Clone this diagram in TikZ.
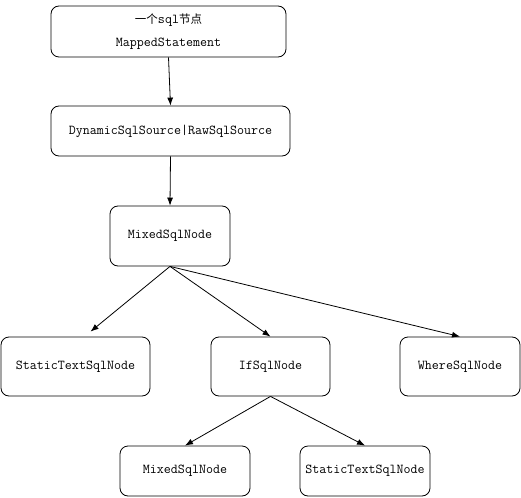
\documentclass[tikz,border=0pt]{standalone}
\usepackage{fontspec}
\newfontfamily\cjk{Noto Sans CJK SC}
\usetikzlibrary{arrows.meta}
\begin{document}
\begin{tikzpicture}[x=1pt,y=-1pt,line width=0.8pt,
 box/.style={draw,rounded corners=8pt,inner sep=0pt,font=\ttfamily\fontsize{13.6}{15}\selectfont},
 arr/.style={-{Latex[length=8pt,width=6pt]}}]
 \useasboundingbox (0,0) rectangle (521,497);
 \node[box,minimum width=235,minimum height=51,align=center] (mapped) at (168.5,31.5) {{\cjk\fontsize{11.5}{14}\selectfont 一个}sql{\cjk\fontsize{11.5}{14}\selectfont 节点}\\[8pt]MappedStatement};
 \node[box,minimum width=239,minimum height=50] (source) at (170.5,131) {DynamicSqlSource|RawSqlSource};
 \node[box,minimum width=120,minimum height=60] (mixed) at (170,236) {MixedSqlNode};
 \node[box,minimum width=149,minimum height=59] (static) at (75.5,366.5) {StaticTextSqlNode};
 \node[box,minimum width=119,minimum height=59] (ifnode) at (270.5,366.5) {IfSqlNode};
 \node[box,minimum width=120,minimum height=59] (where) at (460,366.5) {WhereSqlNode};
 \node[box,minimum width=130,minimum height=50] (mixedb) at (185,471) {MixedSqlNode};
 \node[box,minimum width=130,minimum height=50] (staticb) at (365,471) {StaticTextSqlNode};
 \draw[arr] (mapped.south) -- (source.north);
 \draw[arr] (source.south) -- (mixed.north);
 \draw[arr] (mixed.south) -- ([xshift=15pt,yshift=5pt]static.north);
 \draw[arr] (mixed.south) -- (ifnode.north);
 \draw[arr] (mixed.south) -- (where.north);
 \draw[arr] (ifnode.south) -- (mixedb.north);
 \draw[arr] (ifnode.south) -- (staticb.north);
\end{tikzpicture}
\end{document}
